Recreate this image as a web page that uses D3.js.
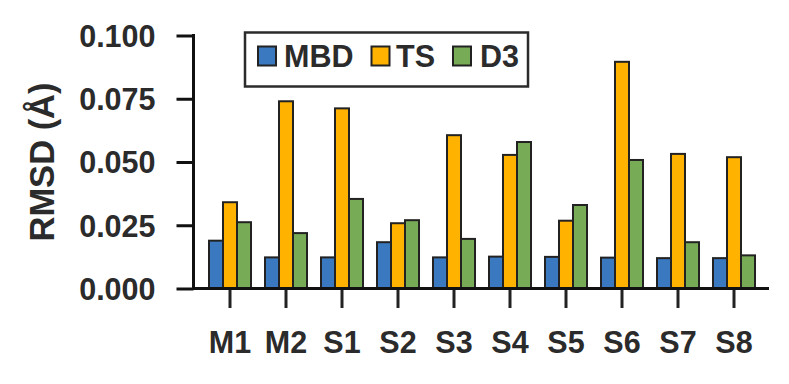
<!DOCTYPE html>
<html><head><meta charset="utf-8">
<script src="https://cdn.jsdelivr.net/npm/d3@7"></script>
<style>body{margin:0;background:#fff}svg{display:block}</style>
</head><body>
<svg id="c" width="789" height="384"></svg>
<script>
const categories = ["M1","M2","S1","S2","S3","S4","S5","S6","S7","S8"];
const seriesNames = ["MBD","TS","D3"];
const mbd = [0.0189,0.0123,0.0123,0.0183,0.0123,0.0126,0.0125,0.0122,0.0120,0.0120];
const ts  = [0.0341,0.0740,0.0712,0.0258,0.0606,0.0528,0.0268,0.0896,0.0532,0.0519];
const d3s = [0.0262,0.0219,0.0354,0.0270,0.0196,0.0579,0.0330,0.0508,0.0183,0.0131];
const yTicks = [0,0.025,0.05,0.075,0.1];
const colors = ["#3a78c0","#ffb300","#78ab55"];

const svg = d3.select("#c");
const font = "'Liberation Sans', Arial, sans-serif";
const ink = "#2b2b2b";
const x0 = 193.5, x1 = 769, yTop = 35.5, yBot = 288.5;

const x = d3.scaleBand().domain(categories).range([202,762]).paddingInner(0.25).paddingOuter(0.125);
const xs = d3.scaleBand().domain(seriesNames).range([0, x.bandwidth()]);
const y = d3.scaleLinear().domain([0,0.1]).range([yBot, yTop]);

const data = categories.map((c,i)=>({c, vals:[mbd[i],ts[i],d3s[i]]}));
const g = svg.append("g").selectAll("g").data(data).join("g")
  .attr("transform", d=>`translate(${x(d.c)},0)`);
g.selectAll("rect").data(d=>d.vals.map((v,j)=>({v,j}))).join("rect")
  .attr("x", d=>xs(seriesNames[d.j]))
  .attr("width", xs.bandwidth())
  .attr("y", d=>y(d.v))
  .attr("height", d=>yBot - y(d.v))
  .attr("fill", d=>colors[d.j])
  .attr("stroke", "#222").attr("stroke-width", 2);

// y axis
const ya = svg.append("g").attr("transform",`translate(${x0},0)`)
  .call(d3.axisLeft(y).tickValues(yTicks).tickFormat(d3.format(".3f")).tickSize(17).tickPadding(21));
ya.select(".domain").remove();
ya.selectAll(".tick line").attr("stroke","#111").attr("stroke-width",3);
ya.selectAll(".tick text").attr("font-family",font).attr("font-weight","bold")
  .attr("font-size",30.5).attr("fill",ink).attr("dy","0.36em");
svg.append("line").attr("x1",x0).attr("x2",x0).attr("y1",yTop-1.5).attr("y2",yBot+1.5)
  .attr("stroke","#111").attr("stroke-width",3);

// x axis
svg.append("line").attr("x1",x0).attr("x2",x1).attr("y1",yBot).attr("y2",yBot)
  .attr("stroke","#111").attr("stroke-width",3);
const xa = svg.append("g").attr("transform",`translate(0,${yBot+1.5})`)
  .call(d3.axisBottom(x).tickSize(18).tickPadding(23));
xa.select(".domain").remove();
xa.selectAll(".tick line").attr("stroke","#222").attr("stroke-width",3);
xa.selectAll(".tick text").attr("font-family",font).attr("font-weight","bold")
  .attr("font-size",30.5).attr("fill",ink);

// y title
svg.append("text").attr("transform","translate(53.5,162) rotate(-90)")
  .attr("text-anchor","middle").attr("font-family",font).attr("font-weight","bold")
  .attr("font-size",34.5).attr("fill",ink).text("RMSD (Å)");

// legend
const lg = svg.append("g");
lg.append("rect").attr("x",245).attr("y",32.5).attr("width",283).attr("height",54)
  .attr("fill","#fff").attr("stroke","#2b2b2b").attr("stroke-width",2.5);
const lx = [258,371.5,453];
const tx = [284,396,480];
seriesNames.forEach((s,i)=>{
  lg.append("rect").attr("x",lx[i]).attr("y",46.5).attr("width",18).attr("height",19)
    .attr("fill",colors[i]).attr("stroke","#222").attr("stroke-width",2);
  lg.append("text").attr("x",tx[i]).attr("y",66.5).attr("font-family",font).attr("font-weight","bold")
    .attr("font-size",30.5).attr("fill",ink).text(s);
});
</script>
</body></html>
